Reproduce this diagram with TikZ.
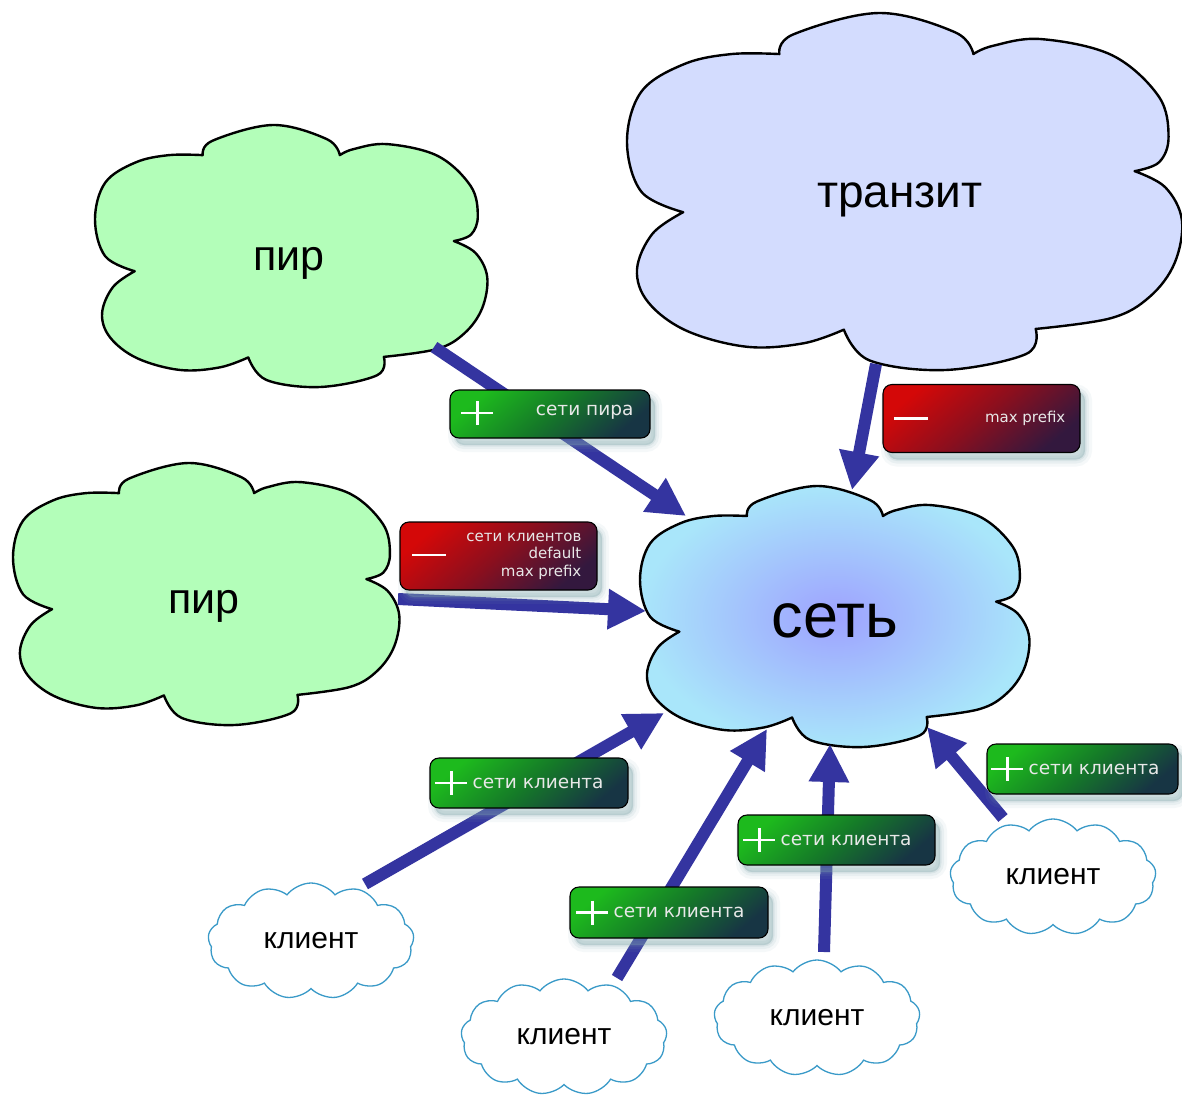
\documentclass[tikz,border=0pt]{standalone}
\usepackage{fontspec}
\setmainfont{Liberation Sans}
\newfontfamily\badgefont{DejaVu Sans}
\usetikzlibrary{arrows.meta,shapes.symbols}
\definecolor{peergreen}{HTML}{B3FEB9}
\definecolor{transitblue}{HTML}{D3DCFE}
\definecolor{netin}{HTML}{9EA2FF}
\definecolor{netout}{HTML}{A9E6FA}
\definecolor{arrowblue}{HTML}{3434A0}
\definecolor{clientline}{HTML}{3A9AC8}
\definecolor{gbright}{HTML}{1DBA1D}
\definecolor{gmid}{HTML}{157A28}
\definecolor{gdark}{HTML}{173544}
\definecolor{rbright}{HTML}{D40808}
\definecolor{rmid}{HTML}{8A0F1E}
\definecolor{rdark}{HTML}{33183E}
\definecolor{shadowc}{HTML}{7FA6AC}
\definecolor{badgetext}{HTML}{E8E8E8}

\newcommand{\bigcloud}[5]{%
 \begin{scope}[shift={(#1,#2)},x=#3pt,y=-#4pt]
  \path[#5]
   plot[smooth,tension=0.6] coordinates {(0.274,0.115) (0.299,0.060) (0.453,0.0) (0.590,0.054) (0.623,0.115)}
   -- plot[smooth,tension=0.6] coordinates {(0.623,0.115) (0.658,0.092) (0.744,0.073) (0.872,0.118) (0.956,0.233) (0.974,0.347) (0.957,0.418) (0.913,0.443)}
   -- plot[smooth,tension=0.6] coordinates {(0.913,0.443) (0.968,0.488) (0.998,0.58) (0.985,0.70) (0.94,0.795) (0.87,0.855) (0.735,0.885)}
   -- plot[smooth,tension=0.6] coordinates {(0.735,0.885) (0.718,0.955) (0.573,1.0) (0.436,0.973) (0.390,0.887)}
   -- plot[smooth,tension=0.6] coordinates {(0.390,0.887) (0.318,0.925) (0.216,0.935) (0.107,0.89) (0.038,0.81) (0.018,0.718) (0.046,0.618) (0.101,0.558)}
   -- plot[smooth,tension=0.6] coordinates {(0.101,0.558) (0.026,0.501) (0.0,0.360) (0.026,0.220) (0.103,0.143) (0.188,0.115) (0.274,0.115)}
   -- cycle;
 \end{scope}}

\begin{document}
\begin{tikzpicture}[x=1pt,y=-1pt,
  cloudline/.style={draw=black,line width=2.4pt,line join=round},
  biglabel/.style={inner sep=0pt,anchor=base,text=black},
  clientcloud/.style={cloud,cloud puffs=13,cloud puff arc=105,aspect=1.76,
     minimum width=206pt,minimum height=116pt,draw=clientline,line width=1.3pt,
     fill=white,inner sep=0pt,font=\fontsize{30}{34}\selectfont},
  arr/.style={draw=arrowblue,line width=12pt,-{Triangle[length=38pt,width=38pt]}},
  softshadow/.style={
     preaction={draw=shadowc,line width=14pt,draw opacity=0.07,fill=shadowc,fill opacity=0.07,
        transform canvas={xshift=5pt,yshift=-7pt}},
     preaction={draw=shadowc,line width=8pt,draw opacity=0.1,
        transform canvas={xshift=5pt,yshift=-7pt}},
     preaction={draw=shadowc,line width=3pt,draw opacity=0.15,fill=shadowc,fill opacity=0.3,
        transform canvas={xshift=5pt,yshift=-7pt}}},
  badge/.style={softshadow,rounded corners=9pt,draw=black,line width=1.1pt,inner sep=0pt},
  gbadge/.style={badge,top color=gbright,bottom color=gdark,middle color=gmid,shading angle=40},
  rbadge/.style={badge,top color=rbright,bottom color=rdark,middle color=rmid,shading angle=40},
  sign/.style={draw=white,line width=2.6pt},
  btext/.style={inner sep=0pt,text=badgetext,font=\badgefont\fontsize{18.5}{21}\selectfont},
  rtext/.style={inner sep=0pt,text=badgetext,font=\badgefont\fontsize{15}{17.5}\selectfont,align=right}
]
\useasboundingbox (0,0) rectangle (1182,1094);
\fill[white] (0,0) rectangle (1182,1094);

% big clouds
\bigcloud{95}{125}{393}{262}{cloudline,fill=peergreen}
\bigcloud{13}{463}{387}{262}{cloudline,fill=peergreen}
\bigcloud{627}{13}{556}{357}{cloudline,fill=transitblue}
\bigcloud{640}{486}{390}{261}{cloudline,inner color=netin,outer color=netout}

\node[biglabel,font=\fontsize{43}{50}\selectfont] (peerA) at (289,270) {пир};
\node[biglabel,font=\fontsize{43}{50}\selectfont] (peerB) at (204,613) {пир};
\node[biglabel,font=\fontsize{46}{52}\selectfont] (transit) at (900,207) {транзит};
\node[biglabel,font=\fontsize{63}{70}\selectfont] (net) at (835,637) {сеть};

% client clouds
\node[clientcloud] (cl1) at (311,941) {клиент};
\node[clientcloud] (cl2) at (564,1037) {клиент};
\node[clientcloud] (cl3) at (817,1018) {клиент};
\node[clientcloud] (cl4) at (1053,877) {клиент};

% arrow end points
\coordinate (a1s) at (434,347);  \coordinate (a1e) at (686,516);
\coordinate (a2s) at (398,599);  \coordinate (a2e) at (646,611);
\coordinate (a3s) at (876,364);  \coordinate (a3e) at (852,490);
\coordinate (a4s) at (365,884);  \coordinate (a4e) at (664,713);
\coordinate (a5s) at (617,978);  \coordinate (a5e) at (767,729);
\coordinate (a6s) at (824,952);  \coordinate (a6e) at (830,744);
\coordinate (a7s) at (1003,818); \coordinate (a7e) at (927,727);

\draw[arr] (a1s) -- (a1e);
\draw[arr] (a2s) -- (a2e);
\draw[arr] (a3s) -- (a3e);
\draw[arr] (a4s) -- (a4e);
\draw[arr] (a5s) -- (a5e);
\draw[arr] (a6s) -- (a6e);
\draw[arr] (a7s) -- (a7e);

% badges
\node[gbadge,minimum width=200pt,minimum height=48pt] (b1) at (550,414) {};
\node[rbadge,minimum width=197pt,minimum height=68pt] (b2) at (981.5,418.5) {};
\node[rbadge,minimum width=197pt,minimum height=68pt] (b3) at (498.5,556) {};
\node[gbadge,minimum width=198pt,minimum height=50pt] (b4) at (529,783) {};
\node[gbadge,minimum width=197pt,minimum height=50pt] (b5) at (836.5,840) {};
\node[gbadge,minimum width=198pt,minimum height=51pt] (b6) at (669,912.5) {};
\node[gbadge,minimum width=191pt,minimum height=50pt] (b7) at (1082.5,769) {};

% signs
\path (b1.west) ++(28,-1) coordinate (s1);
\path (b2.west) ++(29,0) coordinate (s2);
\path (b3.west) ++(30,-1) coordinate (s3);
\path (b4.west) ++(22,0) coordinate (s4);
\path (b5.west) ++(22,0) coordinate (s5);
\path (b6.west) ++(23,0) coordinate (s6);
\path (b7.west) ++(21,0) coordinate (s7);
\foreach \s in {s1,s4,s5,s6,s7}{
  \draw[sign] (\s) ++(-16,0) -- ++(32,0);
  \draw[sign] (\s) ++(0,-12) -- ++(0,24);
}
\foreach \s in {s2,s3}{
  \draw[sign] (\s) ++(-17,0) -- ++(34,0);
}

% badge texts
\node[btext,anchor=east] (t1) at ([xshift=-17pt,yshift=2pt]b1.east) {сети пира};
\node[rtext,anchor=east] (t2) at ([xshift=-15pt]b2.east) {max prefix};
\node[rtext,anchor=east] (t3) at ([xshift=-16pt]b3.east) {сети клиентов\\default\\max prefix};
\node[btext,anchor=west] (t4) at ([xshift=21pt]s4) {сети клиента};
\node[btext,anchor=west] (t5) at ([xshift=21pt]s5) {сети клиента};
\node[btext,anchor=west] (t6) at ([xshift=21pt]s6) {сети клиента};
\node[btext,anchor=west] (t7) at ([xshift=21pt]s7) {сети клиента};
\end{tikzpicture}
\end{document}
